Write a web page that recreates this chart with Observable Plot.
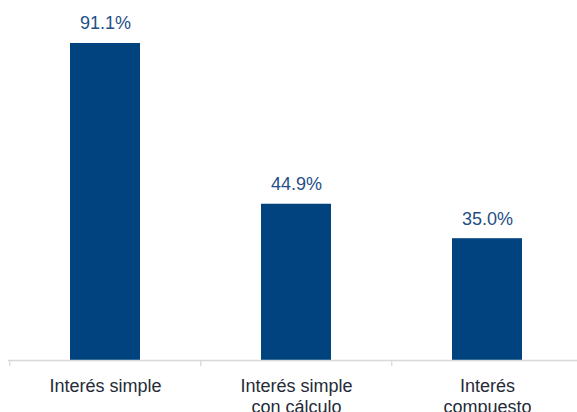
<!DOCTYPE html>
<html>
<head>
<meta charset="utf-8">
<script src="https://cdn.jsdelivr.net/npm/d3@7"></script>
<script src="https://cdn.jsdelivr.net/npm/@observablehq/plot@0.6"></script>
<style>
  html, body { margin: 0; padding: 0; background: #fff; overflow: hidden; }
  svg { display: block; font-family: "Liberation Sans", Arial, sans-serif; }
</style>
</head>
<body>
<div id="chart"></div>
<script>
const categories = ["Interés simple", "Interés simple con cálculo", "Interés compuesto"];
const tickLabels = ["Interés simple", "Interés simple\ncon cálculo", "Interés\ncompuesto"];
const values = [91.1, 44.9, 35.0];
const valueLabels = ["91.1%", "44.9%", "35.0%"];

const data = categories.map((c, i) => ({category: c, value: values[i], label: valueLabels[i]}));
const labelOf = new Map(categories.map((c, i) => [c, tickLabels[i]]));

const step = (582.8 - 8.3) / categories.length;

const chart = Plot.plot({
  width: 577,
  height: 412,
  marginTop: 12,
  marginBottom: 52,
  marginLeft: 8,
  marginRight: 0,
  style: {fontFamily: "'Liberation Sans', Arial, sans-serif", background: "#fff"},
  x: {domain: categories, range: [8.3, 582.8], paddingInner: 0.635, paddingOuter: 0.3175, align: 0.5, label: null},
  y: {domain: [0, 100], axis: null},
  marks: [
    Plot.barY(data, {x: "category", y: "value", fill: "#00437f"}),
    Plot.ruleY([0], {stroke: "#d9d9d9", strokeWidth: 1.3}),
    Plot.axisX({tickSize: 6, tickFormat: () => "", dx: -step / 2, stroke: "#d9d9d9", strokeWidth: 1.3, label: null}),
    Plot.axisX({tickSize: 0, tickPadding: 16, tickFormat: d => labelOf.get(d), fontSize: 18, lineHeight: 1.2, fill: "#242b38", label: null}),
    Plot.text(data, {x: "category", y: "value", text: "label", lineAnchor: "bottom", dy: -14, fontSize: 18, fill: "#1f4e86"})
  ]
});
document.getElementById("chart").appendChild(chart);
</script>
</body>
</html>
